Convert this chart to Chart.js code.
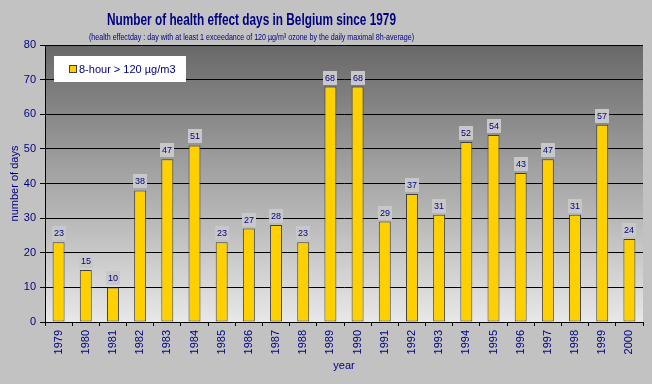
<!DOCTYPE html>
<html>
<head>
<meta charset="utf-8">
<script src="https://cdn.jsdelivr.net/npm/chart.js@4.4.1/dist/chart.umd.min.js"></script>
<style>
  body { margin: 0; background: #c2c2c2; }
  #wrap { width: 652px; height: 384px; position: relative; }
</style>
</head>
<body>
<div id="wrap"><canvas id="myChart"></canvas></div>
<script>
// data
const years = ['1979', '1980', '1981', '1982', '1983', '1984', '1985', '1986', '1987', '1988', '1989',
               '1990', '1991', '1992', '1993', '1994', '1995', '1996', '1997', '1998', '1999', '2000'];
const days = [23, 15, 10, 38, 47, 51, 23, 27, 28, 23, 68, 68, 29, 37, 31, 52, 54, 43, 47, 31, 57, 24];
const seriesName = '8-hour > 120 µg/m3';
const titleText = 'Number of health effect days in Belgium since 1979';
const subtitleText = '(health effectday : day with at least 1 exceedance of 120 µg/m³ ozone by the daily maximal 8h-average)';
const yMax = 80;
const yStep = 10;

const navy = '#000080';
const barColor = '#ffd000';
const sans = '"Liberation Sans", Arial, sans-serif';

// texte étroit : police normale comprimée horizontalement
function narrowText(ctx, text, font, cx, cy, width) {
    ctx.save();
    ctx.font = font;
    const w = ctx.measureText(text).width;
    ctx.translate(cx, cy);
    ctx.scale(width / w, 1);
    ctx.textAlign = 'center';
    ctx.textBaseline = 'middle';
    ctx.fillStyle = navy;
    ctx.fillText(text, 0, 0);
    ctx.restore();
}

// fond gris + dégradé de la zone de tracé + titres
const background = {
    id: 'background',
    beforeDraw(chart) {
        const { ctx, chartArea: a } = chart;
        ctx.save();
        ctx.fillStyle = '#c2c2c2';
        ctx.fillRect(0, 0, chart.width, chart.height);
        const g = ctx.createLinearGradient(0, a.top, 0, a.bottom);
        g.addColorStop(0, '#686868');
        g.addColorStop(1, '#e8e8e8');
        ctx.fillStyle = g;
        ctx.fillRect(a.left, a.top, a.right - a.left, a.bottom - a.top);
        ctx.restore();
        narrowText(ctx, titleText, 'bold 16px ' + sans, 251.5, 21, 289);
        narrowText(ctx, subtitleText, '9px ' + sans, 251.5, 37.5, 325);
    }
};

// petites étiquettes de valeur au-dessus des barres
const valueLabels = {
    id: 'valueLabels',
    afterDatasetsDraw(chart) {
        const { ctx } = chart;
        const meta = chart.getDatasetMeta(0);
        ctx.save();
        ctx.font = '9px ' + sans;
        ctx.textAlign = 'center';
        ctx.textBaseline = 'middle';
        meta.data.forEach((bar, i) => {
            const x = Math.round(bar.x);
            const y = Math.round(bar.y);
            ctx.fillStyle = '#c8c8c8';
            ctx.fillRect(x - 7, y - 16, 14, 14);
            ctx.fillStyle = navy;
            ctx.fillText(String(days[i]), x, y - 8.5);
        });
        ctx.restore();
    }
};

// légende dans la zone de tracé
const boxLegend = {
    id: 'boxLegend',
    afterDraw(chart) {
        const { ctx, chartArea: a } = chart;
        const x = a.left + 9, y = a.top + 11;
        ctx.save();
        ctx.fillStyle = '#ffffff';
        ctx.fillRect(x, y, 132, 26);
        ctx.fillStyle = barColor;
        ctx.strokeStyle = '#404040';
        ctx.lineWidth = 1;
        ctx.fillRect(x + 16, y + 10, 6, 6);
        ctx.strokeRect(x + 15.5, y + 9.5, 7, 7);
        ctx.fillStyle = navy;
        ctx.font = '11px ' + sans;
        ctx.textBaseline = 'middle';
        ctx.fillText(chart.data.datasets[0].label, x + 25, y + 13.5);
        ctx.restore();
    }
};

new Chart('myChart', {
    type: 'bar',
    data: {
        labels: years,
        datasets: [{
            label: seriesName,
            data: days,
            backgroundColor: barColor,
            borderColor: '#404040',
            borderWidth: 1,
            borderSkipped: false,
            barPercentage: 0.44,
            categoryPercentage: 1
        }]
    },
    options: {
        responsive: true,
        maintainAspectRatio: false,
        animation: false,
        layout: { padding: { left: 0, right: 9, top: 45, bottom: 0 } },
        plugins: {
            legend: { display: false },
            tooltip: { enabled: false }
        },
        scales: {
            x: {
                grid: { offset: true, drawOnChartArea: false, color: '#000', tickLength: 4 },
                border: { color: '#000' },
                ticks: { color: navy, font: { family: sans, size: 11 }, minRotation: 90, maxRotation: 90, padding: 4, autoSkip: false },
                title: { display: true, text: 'year', color: navy, font: { family: sans, size: 11 }, padding: { top: 0, bottom: 11 } },
                afterFit(scale) { scale.height = 62; }
            },
            y: {
                min: 0,
                max: yMax,
                ticks: { stepSize: yStep, color: navy, font: { family: sans, size: 11 }, padding: 4 },
                grid: { color: '#000', tickLength: 5 },
                border: { color: '#000' },
                title: { display: true, text: 'number of days', color: navy, font: { family: sans, size: 11 }, padding: { top: 8, bottom: 0 } },
                afterFit(scale) { scale.width = 45; }
            }
        }
    },
    plugins: [background, valueLabels, boxLegend]
});
</script>
</body>
</html>
